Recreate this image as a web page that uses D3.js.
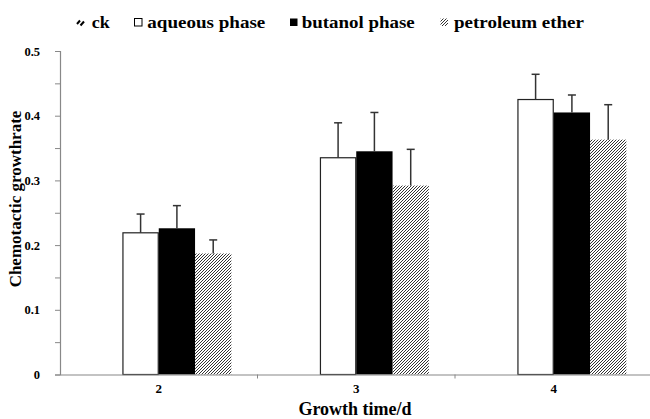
<!DOCTYPE html>
<html>
<head>
<meta charset="utf-8">
<script src="https://cdn.jsdelivr.net/npm/d3@7"></script>
<style>
  html, body { margin: 0; padding: 0; background: #fff; }
  svg { display: block; }
  text { font-family: "Liberation Serif", "Times New Roman", serif; font-weight: bold; fill: #000; }
</style>
</head>
<body>
<svg id="chart" width="650" height="419"></svg>
<script>
// ---- data ----
const categories = ["2", "3", "4"];
const seriesNames = ["ck", "aqueous phase", "butanol phase", "petroleum ether"];
const ckValues = [null, null, null];
const aqueousValues = [0.219, 0.335, 0.425];
const aqueousErrors = [0.029, 0.054, 0.039];
const butanolValues = [0.226, 0.345, 0.405];
const butanolErrors = [0.035, 0.060, 0.027];
const petroleumValues = [0.187, 0.292, 0.363];
const petroleumErrors = [0.021, 0.056, 0.054];
const yTicks = [0, 0.1, 0.2, 0.3, 0.4, 0.5];
const yTickLabels = ["0", "0.1", "0.2", "0.3", "0.4", "0.5"];
const yTitle = "Chemotactic growthrate";
const xTitle = "Growth time/d";

const seriesValues = [ckValues, aqueousValues, butanolValues, petroleumValues];
const seriesErrors = [[null, null, null], aqueousErrors, butanolErrors, petroleumErrors];
const seriesFill = ["url(#ckHatch)", "#ffffff", "#000000", "url(#hatch)"];

const svg = d3.select("#chart");
const defs = svg.append("defs");
defs.append("pattern").attr("id", "hatch").attr("patternUnits", "userSpaceOnUse")
  .attr("width", 3).attr("height", 3)
  .append("path").attr("d", "M-1,1 L1,-1 M0,3 L3,0 M2,4 L4,2")
  .attr("stroke", "#333").attr("stroke-width", 1);
defs.append("pattern").attr("id", "ckHatch").attr("patternUnits", "userSpaceOnUse")
  .attr("width", 4).attr("height", 4)
  .append("path").attr("d", "M-1,1 L1,-1 M0,4 L4,0 M3,5 L5,3")
  .attr("stroke", "#000").attr("stroke-width", 1.6);

const mLeft = 60, mRight = 652.5, mTop = 51, mBottom = 374.5;

const x = d3.scaleBand().domain(categories).range([mLeft, mRight]).padding(0);
const xs = d3.scaleBand().domain(seriesNames).range([0, x.bandwidth()])
  .paddingInner(0).paddingOuter(0.72);
const y = d3.scaleLinear().domain([0, 0.5]).range([mBottom, mTop]);

// bars
seriesNames.forEach((s, si) => {
  const data = categories.map((c, ci) => ({ c, v: seriesValues[si][ci], e: seriesErrors[si][ci] }))
    .filter(d => d.v != null);
  const isWhite = seriesFill[si] === "#ffffff";
  const g = svg.append("g");
  g.selectAll("rect").data(data).enter().append("rect")
    .attr("x", d => x(d.c) + xs(s) + (isWhite ? 0.5 : 0))
    .attr("y", d => y(d.v))
    .attr("width", xs.bandwidth() - (isWhite ? 1 : 0))
    .attr("height", d => y(0) - y(d.v))
    .attr("fill", seriesFill[si])
    .attr("stroke", isWhite ? "#222" : "none")
    .attr("stroke-width", 1.2);
  const eb = svg.append("g").attr("stroke", "#333").attr("stroke-width", 1.5);
  data.filter(d => d.e != null).forEach(d => {
    const cx = x(d.c) + xs(s) + xs.bandwidth() / 2;
    eb.append("line").attr("x1", cx).attr("x2", cx).attr("y1", y(d.v)).attr("y2", y(d.v + d.e));
    eb.append("line").attr("x1", cx - 4).attr("x2", cx + 4).attr("y1", y(d.v + d.e)).attr("y2", y(d.v + d.e));
  });
});

// y axis
const yAxis = d3.axisLeft(y).tickValues(d3.range(0, 0.5001, 0.05)).tickSize(5)
  .tickFormat(d => {
    const i = yTicks.findIndex(t => Math.abs(t - d) < 1e-9);
    return i >= 0 ? yTickLabels[i] : "";
  });
const gy = svg.append("g").attr("transform", `translate(${mLeft},0)`).call(yAxis);
gy.select(".domain").attr("stroke", "#888").attr("stroke-width", 1.2);
gy.selectAll(".tick line").attr("stroke", "#888");
gy.selectAll(".tick text").attr("x", -20).style("font-size", "12.5px")
  .style("font-family", '"Liberation Serif", "Times New Roman", serif').style("font-weight", "bold");

// x axis
const xAxis = d3.axisBottom(x).tickSize(0).tickPadding(9);
const gx = svg.append("g").attr("transform", `translate(0,${mBottom})`).call(xAxis);
gx.select(".domain").attr("stroke", "#888").attr("stroke-width", 1.2);
gx.selectAll(".tick text").style("font-size", "13px")
  .style("font-family", '"Liberation Serif", "Times New Roman", serif').style("font-weight", "bold");
gx.selectAll(".bt").data(categories.slice(1)).enter().append("line")
  .attr("x1", d => x(d)).attr("x2", d => x(d)).attr("y1", 0).attr("y2", 4)
  .attr("stroke", "#888");

// titles
svg.append("text").attr("transform", `translate(21,199) rotate(-90)`)
  .attr("text-anchor", "middle").style("font-size", "17px").text(yTitle);
svg.append("text").attr("x", 355).attr("y", 415).attr("text-anchor", "middle")
  .style("font-size", "18px").text(xTitle);

// legend
const legendIconX = [77, 134, 289.5, 440];
const legendTextX = [91.7, 147.3, 301.7, 454];
const legendTextW = [18, 118, 113, 130];
const legendFill = ["none", "#fff", "#000", "url(#hatch)"];
const lg = svg.append("g");
seriesNames.forEach((s, i) => {
  if (i === 0) {
    lg.append("line").attr("x1", legendIconX[i]).attr("y1", 24).attr("x2", legendIconX[i] + 3).attr("y2", 20.5)
      .attr("stroke", "#000").attr("stroke-width", 2);
    lg.append("line").attr("x1", legendIconX[i] + 3.5).attr("y1", 25.5).attr("x2", legendIconX[i] + 7).attr("y2", 21.5)
      .attr("stroke", "#000").attr("stroke-width", 2);
  } else {
    lg.append("rect").attr("x", legendIconX[i] + 0.5).attr("y", 18.5).attr("width", 7.5).attr("height", 7.5)
      .attr("fill", legendFill[i]).attr("stroke", i === 1 ? "#000" : "none").attr("stroke-width", 1);
  }
  lg.append("text").attr("x", legendTextX[i]).attr("y", 27.5).style("font-size", "16.5px")
    .attr("textLength", legendTextW[i]).attr("lengthAdjust", "spacingAndGlyphs").text(s);
});
</script>
</body>
</html>
